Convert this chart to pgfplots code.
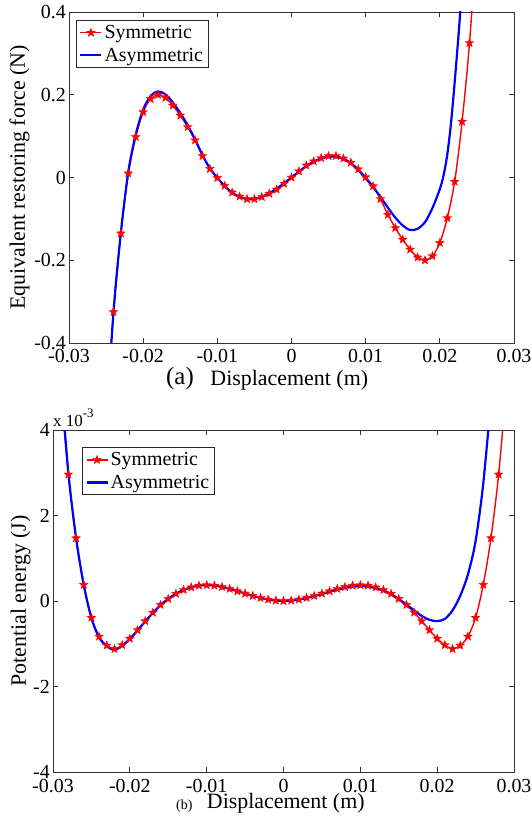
\documentclass[border=0pt]{standalone}
\usepackage{pgfplots}
\pgfplotsset{compat=1.18}
\usepackage{fontspec}
\setmainfont{Liberation Serif}

\pgfdeclareplotmark{pstar}{%
  \pgfpathmoveto{\pgfpointpolar{90}{\pgfplotmarksize}}%
  \pgfpathlineto{\pgfpointpolar{126}{0.42\pgfplotmarksize}}%
  \pgfpathlineto{\pgfpointpolar{162}{\pgfplotmarksize}}%
  \pgfpathlineto{\pgfpointpolar{198}{0.42\pgfplotmarksize}}%
  \pgfpathlineto{\pgfpointpolar{234}{\pgfplotmarksize}}%
  \pgfpathlineto{\pgfpointpolar{270}{0.42\pgfplotmarksize}}%
  \pgfpathlineto{\pgfpointpolar{306}{\pgfplotmarksize}}%
  \pgfpathlineto{\pgfpointpolar{342}{0.42\pgfplotmarksize}}%
  \pgfpathlineto{\pgfpointpolar{18}{\pgfplotmarksize}}%
  \pgfpathlineto{\pgfpointpolar{54}{0.42\pgfplotmarksize}}%
  \pgfpathclose
  \pgfusepathqfillstroke
}

\pgfplotsset{
  myaxis/.style={
    scale only axis,
    scaled ticks=false,
    axis line style={black!80, line width=0.9bp},
    tick style={black!80, line width=0.8bp},
    tick align=inside, tick pos=both, major tick length=5bp,
    minor tick num=0,
    ticklabel style={font=\fontsize{20}{22}\selectfont},
    xticklabel style={anchor=base, yshift=-20bp},
    yticklabel style={anchor=east, inner sep=3bp},
    label style={font=\fontsize{22}{24}\selectfont},
    legend cell align=left,
    legend image code/.code={\draw[mark repeat=2,mark phase=2,##1] plot coordinates {(0bp,0bp) (10.5bp,0bp) (21bp,0bp)};},
    legend style={font=\fontsize{20}{24}\selectfont, draw=black!85, line width=0.8bp, inner xsep=3bp, inner ysep=3bp, row sep=4bp},
  },
  symm/.style={red, line width=1.4bp, smooth, tension=0.5, mark=pstar, mark size=4.6bp, mark options={solid, fill=red, draw=red, line width=0.3bp}},
  asym/.style={blue, line width=2.2bp, smooth, tension=0.5, no markers},
}

\begin{document}
\begin{tikzpicture}
\useasboundingbox (0,0) rectangle (532bp,822bp);

\begin{axis}[myaxis,
  at={(69bp,479bp)}, anchor=south west,
  width=445bp, height=331bp,
  xmin=-0.03, xmax=0.03, ymin=-0.4, ymax=0.4,
  xtick={-0.03,-0.02,-0.01,0,0.01,0.02,0.03},
  xticklabels={-0.03,-0.02,-0.01,0,0.01,0.02,0.03},
  ytick={-0.4,-0.2,0,0.2,0.4},
  yticklabels={-0.4,-0.2,0,0.2,0.4},
  xlabel={Displacement (m)},
  ylabel={Equivalent restoring force (N)},
  xlabel style={at={(axis description cs:0.495,-0.127)}, anchor=base},
  ylabel style={at={(axis description cs:-0.099,0.5)}, anchor=base},
  legend style={at={(0.0157,0.976)}, anchor=north west},
]
\addplot[symm] coordinates {
(-0.025,-0.58)(-0.024,-0.325)(-0.023,-0.135)(-0.022,0.010)(-0.021,0.098)(-0.020,0.158)(-0.019,0.190)(-0.018,0.200)(-0.017,0.193)(-0.016,0.174)(-0.015,0.150)(-0.014,0.122)(-0.013,0.090)(-0.012,0.052)(-0.011,0.021)(-0.010,-0.001)(-0.009,-0.020)(-0.008,-0.036)(-0.007,-0.046)(-0.006,-0.052)(-0.005,-0.052)(-0.004,-0.047)(-0.003,-0.039)(-0.002,-0.029)(-0.001,-0.015)(0,0)(0.001,0.015)(0.002,0.029)(0.003,0.039)(0.004,0.047)(0.005,0.052)(0.006,0.052)(0.007,0.046)(0.008,0.036)(0.009,0.020)(0.010,0.001)(0.011,-0.021)(0.012,-0.052)(0.013,-0.090)(0.014,-0.122)(0.015,-0.150)(0.016,-0.174)(0.017,-0.193)(0.018,-0.200)(0.019,-0.190)(0.020,-0.158)(0.021,-0.098)(0.022,-0.010)(0.023,0.135)(0.024,0.325)(0.025,0.58)
};
\addlegendentry{Symmetric}
\addplot[asym] coordinates {
(-0.025,-0.60)(-0.024,-0.325)(-0.023,-0.132)(-0.022,0.014)(-0.021,0.104)(-0.020,0.164)(-0.019,0.197)(-0.018,0.208)(-0.017,0.201)(-0.016,0.181)(-0.015,0.156)(-0.014,0.126)(-0.013,0.092)(-0.012,0.054)(-0.011,0.022)(-0.010,-0.001)(-0.009,-0.021)(-0.008,-0.037)(-0.007,-0.047)(-0.006,-0.052)(-0.005,-0.052)(-0.004,-0.047)(-0.003,-0.038)(-0.002,-0.027)(-0.001,-0.014)(0,0)(0.001,0.014)(0.002,0.027)(0.003,0.038)(0.004,0.046)(0.005,0.050)(0.006,0.050)(0.007,0.045)(0.008,0.034)(0.009,0.018)(0.010,-0.002)(0.011,-0.023)(0.012,-0.047)(0.013,-0.073)(0.014,-0.097)(0.015,-0.116)(0.016,-0.127)(0.017,-0.124)(0.018,-0.108)(0.019,-0.074)(0.020,-0.028)(0.0205,0.005)(0.021,0.055)(0.0215,0.13)(0.022,0.23)(0.0225,0.34)(0.023,0.46)
};
\addlegendentry{Asymmetric}
\end{axis}

\node[anchor=base west, inner sep=0, font=\fontsize{25}{25}\selectfont] at (166bp,437bp) {(a)};

\begin{axis}[myaxis,
  at={(53bp,50bp)}, anchor=south west,
  width=461bp, height=342bp,
  xmin=-0.03, xmax=0.03, ymin=-4, ymax=4,
  xtick={-0.03,-0.02,-0.01,0,0.01,0.02,0.03},
  xticklabels={-0.03,-0.02,-0.01,0,0.01,0.02,0.03},
  ytick={-4,-2,0,2,4},
  yticklabels={-4,-2,0,2,4},
  xlabel={Displacement (m)},
  ylabel={Potential energy (J)},
  xlabel style={at={(axis description cs:0.505,-0.108)}, anchor=base},
  ylabel style={at={(axis description cs:-0.059,0.5)}, anchor=base},
  legend style={at={(0.063,0.950)}, anchor=north west},
]
\addplot[symm] coordinates {
(-0.029,5.0)(-0.028,2.96)(-0.027,1.47)(-0.026,0.38)(-0.025,-0.39)(-0.024,-0.83)(-0.023,-1.04)(-0.022,-1.12)(-0.021,-1.03)(-0.020,-0.88)(-0.019,-0.68)(-0.018,-0.47)(-0.017,-0.27)(-0.016,-0.09)(-0.015,0.05)(-0.014,0.17)(-0.013,0.26)(-0.012,0.32)(-0.011,0.36)(-0.010,0.372)(-0.009,0.36)(-0.008,0.33)(-0.007,0.285)(-0.006,0.23)(-0.005,0.175)(-0.004,0.12)(-0.003,0.075)(-0.002,0.035)(-0.001,0.01)(0,0)(0.001,0.01)(0.002,0.035)(0.003,0.075)(0.004,0.12)(0.005,0.175)(0.006,0.23)(0.007,0.285)(0.008,0.33)(0.009,0.36)(0.010,0.372)(0.011,0.36)(0.012,0.32)(0.013,0.26)(0.014,0.17)(0.015,0.05)(0.016,-0.09)(0.017,-0.27)(0.018,-0.47)(0.019,-0.68)(0.020,-0.88)(0.021,-1.03)(0.022,-1.12)(0.023,-1.04)(0.024,-0.83)(0.025,-0.39)(0.026,0.38)(0.027,1.47)(0.028,2.96)(0.029,5.0)
};
\addlegendentry{Symmetric}
\addplot[asym] coordinates {
(-0.029,5.2)(-0.028,3.0)(-0.027,1.48)(-0.026,0.38)(-0.025,-0.40)(-0.024,-0.85)(-0.023,-1.06)(-0.022,-1.14)(-0.021,-1.05)(-0.020,-0.89)(-0.019,-0.69)(-0.018,-0.48)(-0.017,-0.28)(-0.016,-0.10)(-0.015,0.05)(-0.014,0.17)(-0.013,0.26)(-0.012,0.32)(-0.011,0.36)(-0.010,0.372)(-0.009,0.36)(-0.008,0.33)(-0.007,0.285)(-0.006,0.23)(-0.005,0.175)(-0.004,0.12)(-0.003,0.075)(-0.002,0.035)(-0.001,0.01)(0,0)(0.001,0.01)(0.002,0.033)(0.003,0.07)(0.004,0.113)(0.005,0.165)(0.006,0.215)(0.007,0.265)(0.008,0.305)(0.009,0.335)(0.010,0.345)(0.011,0.335)(0.012,0.30)(0.013,0.24)(0.014,0.155)(0.015,0.045)(0.016,-0.08)(0.017,-0.22)(0.018,-0.35)(0.019,-0.44)(0.020,-0.47)(0.021,-0.42)(0.022,-0.22)(0.023,0.12)(0.024,0.62)(0.025,1.40)(0.026,2.75)(0.027,4.7)
};
\addlegendentry{Asymmetric}
\end{axis}

\node[anchor=base west, inner sep=0, font=\fontsize{17}{17}\selectfont] at (53bp,395bp) {x 10\raisebox{0.55em}{\fontsize{13}{13}\selectfont -3}};
\node[anchor=base west, inner sep=0, font=\fontsize{14}{14}\selectfont] at (176bp,13bp) {(b)};
\end{tikzpicture}
\end{document}
